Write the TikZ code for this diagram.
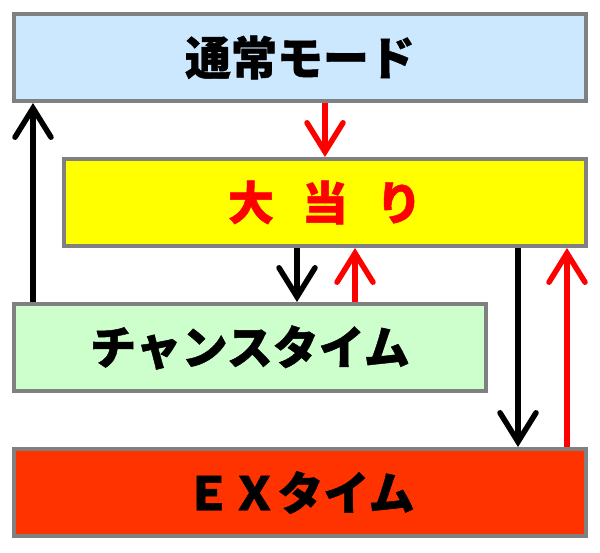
\documentclass[tikz,border=0pt]{standalone}
\usepackage{fontspec}
\newfontfamily\jp[BoldFeatures={FakeBold=1}]{Noto Sans CJK JP}
\usetikzlibrary{arrows.meta}
\definecolor{modeblue}{HTML}{CCE8FF}
\definecolor{hityellow}{HTML}{FFFF00}
\definecolor{chancegreen}{HTML}{CCFFCC}
\definecolor{exred}{HTML}{FF3300}
\definecolor{edgegray}{HTML}{808080}
\tikzset{
  box/.style={draw=edgegray,line width=4pt,minimum height=87pt,inner sep=0pt,
    font=\jp\bfseries\fontsize{46}{52}\selectfont},
  blkarrow/.style={line width=5.5pt,-{Straight Barb[length=29pt,width=36pt,line cap=round]}},
  redarrow/.style={blkarrow,red}
}
\begin{document}
\begin{tikzpicture}[x=1pt,y=-1pt]
   \useasboundingbox (0,0) rectangle (600,553);
   \node[box,fill=modeblue,minimum width=572pt] (normal) at (300,57.5) {通常モード};
   \node[box,fill=hityellow,minimum width=522pt,text=red] (hit) at (325,202.5) {大\hspace{28pt}当\hspace{28pt}り\hspace{12pt}};
   \node[box,fill=chancegreen,minimum width=472pt] (chance) at (250,347.5) {チャンスタイム};
   \node[box,fill=exred,minimum width=572pt] (ex) at (300,492.5) {ＥＸタイム};

   \draw[blkarrow] ([xshift=21pt]chance.north west) -- ([xshift=21pt]chance.north west |- normal.south);
   \draw[redarrow] (hit.north |- normal.south) -- (hit.north);
   \draw[blkarrow] ([xshift=-28pt]hit.south) -- ([xshift=-28pt]hit.south |- chance.north);
   \draw[redarrow] ([xshift=30pt]hit.south |- chance.north) -- ([xshift=30pt]hit.south);
   \draw[blkarrow] ([xshift=-70pt]hit.south east) -- ([xshift=-70pt]hit.south east |- ex.north);
   \draw[redarrow] ([xshift=-21pt]hit.south east |- ex.north) -- ([xshift=-21pt]hit.south east);
\end{tikzpicture}
\end{document}
